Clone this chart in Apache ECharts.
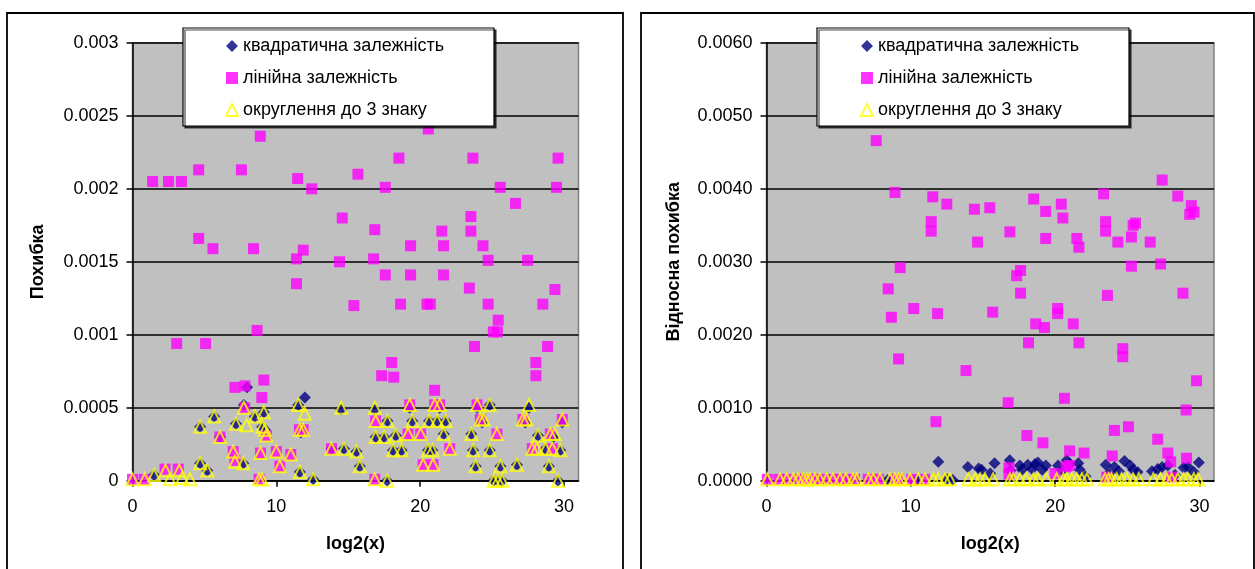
<!DOCTYPE html>
<html>
<head>
<meta charset="utf-8">
<script src="https://cdn.jsdelivr.net/npm/echarts@6/dist/echarts.min.js"></script>
<style>
html,body{margin:0;padding:0;background:#fff;overflow:hidden}
#c{width:1255px;height:569px}
</style>
</head>
<body>
<div id="c"></div>
<script>
// ---- names / ticks ----
const seriesNames = ['квадратична залежність', 'лінійна залежність', 'округлення до 3 знаку'];
const xTickValues = [0, 10, 20, 30];
const leftAxisTitle = 'Похибка';
const rightAxisTitle = 'Відносна похибка';
const xAxisTitle = 'log2(x)';

// ---- left chart: absolute error ----
const absRounding = [
  [0.0,0.00001],[0.85,0.00001],[1.5,0.00004],[2.3,0.00007],[2.6,0.00001],[3.25,0.00007],[3.45,0.00002],[4.0,0.00001],
  [4.7,0.00037],[4.7,0.00012],[5.2,0.00007],[5.68,0.00044],[6.08,0.0003],[7.0,0.0002],[7.12,0.00013],[7.19,0.00039],
  [7.7,0.00012],[7.74,0.0005],[7.93,0.00038],[8.51,0.00044],[8.8,0.00001],[8.9,0.00019],[9.0,0.00001],[9.02,0.00037],
  [9.13,0.00047],[9.2,0.00035],[9.3,0.00031],[10.0,0.0002],[10.24,0.0001],[11.0,0.00018],[11.52,0.00052],[11.63,0.00006],
  [11.63,0.00035],[11.86,0.00035],[11.98,0.00046],[12.56,0.00001],[13.83,0.00022],[14.5,0.0005],[14.7,0.00022],[15.57,0.0002],
  [15.8,0.0001],[16.84,0.0005],[16.84,0.00001],[16.9,0.00041],[16.9,0.0003],[17.49,0.0003],[17.7,0.0],[17.72,0.00041],
  [18.11,0.00021],[18.3,0.00031],[18.7,0.00021],[19.15,0.00032],[19.27,0.00052],[19.45,0.00041],[20.03,0.00032],[20.2,0.00011],
  [20.54,0.00021],[20.61,0.00041],[20.84,0.00021],[20.89,0.00011],[21.0,0.00052],[21.17,0.00041],[21.35,0.00052],[21.63,0.00032],
  [21.77,0.00041],[22.05,0.00022],[23.55,0.00032],[23.67,0.00021],[23.85,0.0001],[23.95,0.00052],[24.18,0.00042],[24.41,0.00042],
  [24.83,0.00052],[24.83,0.00021],[25.1,0.0],[25.33,0.00032],[25.4,0.0],[25.57,0.0001],[25.7,0.0],[26.72,0.00011],
  [27.14,0.00042],[27.37,0.00042],[27.56,0.00052],[27.79,0.00022],[28.11,0.00022],[28.18,0.00031],[28.71,0.00022],[28.94,0.0001],
  [29.04,0.00032],[29.18,0.00022],[29.34,0.00032],[29.57,0.0],[29.73,0.00021],[29.87,0.00042]
];
const absQuadratic = [
  [1.5,0.00004],[4.7,0.00037],[4.7,0.00012],[5.2,0.00007],[5.68,0.00044],[6.08,0.0003],[7.19,0.00039],
  [7.7,0.00012],[7.74,0.00052],[7.96,0.00064],[8.51,0.00044],[9.02,0.00037],[9.13,0.00047],[9.2,0.00035],
  [11.52,0.00052],[11.63,0.00006],[11.7,0.00033],[11.98,0.00057],[12.56,0.00001],[13.83,0.00022],[14.5,0.00049],
  [14.7,0.00022],[15.57,0.0002],[15.8,0.0001],[16.84,0.00049],[16.9,0.0003],[17.49,0.0003],[17.7,0.0],[17.72,0.00041],
  [18.11,0.00021],[18.3,0.00031],[18.7,0.00021],[19.27,0.0005],[19.45,0.00041],[20.54,0.00021],[20.61,0.00041],
  [20.84,0.00021],[21.17,0.00041],[21.35,0.0005],[21.63,0.00032],[21.77,0.00041],[23.55,0.00032],[23.67,0.00021],
  [23.85,0.0001],[23.95,0.0005],[24.3,0.0004],[24.83,0.00052],[24.83,0.00021],[25.1,0.0],[25.4,0.0],[25.57,0.0001],
  [25.7,0.0],[26.72,0.00011],[27.3,0.0004],[27.56,0.0005],[28.18,0.00031],[28.71,0.00022],[28.94,0.0001],
  [29.25,0.0003],[29.57,0.0],[29.73,0.00021],[29.87,0.0004]
];
const absLinear = [
  [1.4,0.00205],[2.5,0.00205],[3.4,0.00205],[4.6,0.00213],[7.57,0.00213],[8.88,0.00236],[11.48,0.00207],[12.46,0.002],
  [4.6,0.00166],[5.59,0.00159],[8.41,0.00159],[11.4,0.00152],[11.87,0.00158],[11.4,0.00135],[3.07,0.00094],[5.08,0.00094],
  [8.66,0.00103],[7.12,0.00064],[7.82,0.00065],[9.13,0.00069],[8.99,0.00057],[7.8,0.0005],[14.58,0.0018],[15.67,0.0021],
  [14.39,0.0015],[15.39,0.0012],[16.84,0.00172],[16.76,0.00152],[17.57,0.00201],[17.57,0.00141],[18.52,0.00221],[18.63,0.00121],
  [17.32,0.00072],[18.16,0.00071],[18.02,0.00081],[19.33,0.00161],[19.33,0.00141],[20.47,0.00121],[20.7,0.00121],[20.56,0.00241],
  [21.5,0.00171],[21.62,0.00161],[21.62,0.00141],[21.0,0.00062],[23.66,0.00221],[23.52,0.00181],[23.52,0.00171],[23.41,0.00132],
  [23.77,0.00092],[24.36,0.00161],[24.72,0.00151],[24.72,0.00121],[25.42,0.0011],[25.08,0.00102],[25.36,0.00102],[25.56,0.00201],
  [26.62,0.0019],[27.46,0.00151],[28.04,0.00081],[28.04,0.00072],[28.52,0.00121],[28.85,0.00092],[29.36,0.00131],[29.47,0.00201],
  [29.58,0.00221],
  [0.0,0.00001],[0.8,0.00001],[2.26,0.00008],[3.18,0.00008],[6.08,0.0003],[7.0,0.0002],[7.12,0.00014],[8.8,0.00001],
  [8.9,0.00019],[9.3,0.00031],[10.0,0.0002],[10.24,0.0001],[11.0,0.00018],[11.6,0.00035],[11.86,0.00035],[13.83,0.00022],
  [16.84,0.00001],[16.9,0.00041],[19.15,0.00032],[19.27,0.00052],[20.03,0.00032],[20.2,0.00011],[20.89,0.00011],[21.0,0.00052],
  [21.35,0.00052],[22.05,0.00022],[23.95,0.00052],[24.18,0.00042],[25.33,0.00032],[27.14,0.00042],[27.79,0.00022],[29.04,0.00032],
  [29.18,0.00022],[29.87,0.00042]
];

// ---- right chart: relative error ----
const relRounding = [
  [0.06,0.00002],[0.94,0.00002],[1.4,0.00002],[1.86,0.00002],[2.2,0.00002],[2.55,0.00002],[2.78,0.00002],[3.0,0.00002],
  [3.36,0.00002],[3.7,0.00002],[4.17,0.00002],[4.6,0.00002],[5.1,0.00002],[5.5,0.00002],[6.0,0.00002],[6.25,0.00002],
  [7.06,0.00002],[7.4,0.00002],[7.86,0.00002],[8.56,0.00002],[8.9,0.00002],[9.13,0.00002],[9.37,0.00002],[9.94,0.00002],
  [10.52,0.00002],[10.98,0.00002],[11.56,0.00002],[11.9,0.00002],[12.37,0.00002],[12.7,0.00002],[13.98,0.00002],[14.45,0.00002],
  [14.8,0.00002],[15.14,0.00002],[15.7,0.00002],[16.87,0.00002],[17.1,0.00002],[17.56,0.00002],[18.0,0.00002],[18.5,0.00002],
  [18.8,0.00002],[19.4,0.00002],[20.1,0.00002],[20.57,0.00002],[20.8,0.00002],[21.15,0.00002],[21.5,0.00002],[21.85,0.00002],
  [22.2,0.00002],[23.45,0.00002],[23.7,0.00002],[23.9,0.00002],[24.26,0.00002],[24.6,0.00002],[24.97,0.00002],[25.4,0.00002],
  [25.8,0.00002],[26.8,0.00002],[27.3,0.00002],[27.72,0.00002],[28.07,0.00002],[28.5,0.00002],[28.9,0.00002],[29.2,0.00002],
  [29.6,0.00002],[29.9,0.00002]
];
const relQuadratic = [
  [8.4,0.00001],[10.4,0.00001],[12.5,0.00002],[12.9,0.00001],
  [11.9,0.00026],[13.95,0.00019],[14.7,0.00017],[14.9,0.00015],[15.5,0.0001],[15.8,0.00024],[16.85,0.00028],[16.9,0.00014],
  [17.55,0.00021],[17.7,0.00015],[18.1,0.00022],[18.4,0.00016],[18.6,0.00023],[18.8,0.00025],[19.1,0.00015],[19.35,0.00021],
  [20.2,0.00021],[20.5,0.00014],[20.8,0.00028],[21.0,0.00023],[21.6,0.00024],[21.7,0.00015],[22.1,0.00006],[23.5,0.00022],
  [23.7,0.0001],[24.1,0.00019],[24.4,0.00013],[24.8,0.00027],[25.2,0.00021],[25.4,0.00015],[25.7,0.00012],[26.7,0.00013],
  [27.1,0.00016],[27.4,0.00019],[27.8,0.00021],[28.3,0.00008],[28.9,0.00018],[29.2,0.00019],[29.6,0.00012],[29.95,0.00025]
];
const relLinear = [
  [7.6,0.00466],[8.9,0.00395],[9.26,0.00292],[8.43,0.00263],[8.65,0.00224],[9.15,0.00167],[10.2,0.00236],[11.52,0.00389],
  [11.41,0.00355],[11.41,0.00342],[12.49,0.00379],[11.85,0.00229],[11.74,0.00081],[13.82,0.00151],[14.4,0.00372],[14.62,0.00327],
  [15.47,0.00374],[15.67,0.00231],[16.86,0.00341],[16.74,0.00107],[17.33,0.00281],[17.6,0.00288],[17.6,0.00257],[18.15,0.00189],
  [18.51,0.00386],[18.65,0.00215],[19.26,0.0021],[19.34,0.00369],[19.34,0.00332],[20.17,0.00236],[20.17,0.00229],[20.42,0.00379],
  [20.53,0.0036],[20.64,0.00113],[21.25,0.00215],[21.5,0.00332],[21.64,0.0032],[21.64,0.00189],[23.35,0.00393],[23.49,0.00355],
  [23.49,0.00342],[23.62,0.00254],[24.34,0.00327],[24.68,0.00181],[24.68,0.0017],[25.28,0.00334],[25.28,0.00294],[25.4,0.0035],
  [25.56,0.00353],[26.58,0.00327],[27.41,0.00412],[27.3,0.00297],[28.49,0.0039],[28.85,0.00257],[29.43,0.00377],[29.32,0.00365],
  [29.62,0.00368],[29.79,0.00137],[29.07,0.00097],
  [21.0,0.00041],[22.0,0.00038],[18.04,0.00062],[19.15,0.00052],[24.1,0.00069],[25.07,0.00074],[27.1,0.00057],[27.8,0.00038],
  [28.0,0.00026],[29.1,0.00031],[23.95,0.00034],[20.75,0.00019],[20.98,0.00021],[19.99,0.0001],[16.8,0.00018],[16.8,0.00009],
  [23.57,0.00005],[28.07,0.00005],
  [0.05,0.00002],[0.85,0.00002],[1.5,0.00002],[2.3,0.00002],[2.6,0.00002],[3.25,0.00002],[3.45,0.00002],[4.0,0.00002],
  [4.7,0.00002],[5.2,0.00002],[5.7,0.00002],[6.1,0.00002],[7.05,0.00002],[7.45,0.00002],[7.75,0.00002],[8.95,0.00002],
  [9.1,0.00002],[10.05,0.00002],[10.95,0.00002]
];

// ---- styles ----
const FONT = 'Arial, "Liberation Sans", sans-serif';
const styles = [
  {symbol: 'diamond', symbolSize: 12, itemStyle: {color: '#000080'}},
  {symbol: 'rect', symbolSize: 11, itemStyle: {color: '#FF00FF'}},
  {symbol: 'triangle', symbolSize: 12, itemStyle: {color: 'rgba(0,0,0,0)', borderColor: '#FFFF00', borderWidth: 2}}
];

function mkSeries(idx, data, name, st) {
  return Object.assign({
    type: 'scatter', name: name, xAxisIndex: idx, yAxisIndex: idx, data: data,
    clip: false, emphasis: {disabled: true}, animation: false
  }, st);
}

function xAxisOf(idx) {
  return {
    gridIndex: idx, type: 'value', min: 0, max: 31, interval: 10,
    name: xAxisTitle, nameLocation: 'middle', nameGap: 54,
    nameTextStyle: {fontFamily: FONT, fontSize: 18, fontWeight: 'bold', color: '#000'},
    axisLine: {show: true, onZero: false, lineStyle: {color: '#000', width: 1.5}},
    axisTick: {show: true, length: 6, inside: false, customValues: xTickValues, lineStyle: {color: '#000', width: 1.5}},
    axisLabel: {customValues: xTickValues, margin: 17, fontFamily: FONT, fontSize: 18, color: '#000'},
    splitLine: {show: false}
  };
}

function yAxisOf(idx, max, interval, name, gap, fmt) {
  return {
    gridIndex: idx, type: 'value', min: 0, max: max, interval: interval,
    name: name, nameLocation: 'middle', nameGap: gap,
    nameTextStyle: {fontFamily: FONT, fontSize: 18, fontWeight: 'bold', color: '#000'},
    axisLine: {show: true, lineStyle: {color: '#000', width: 1.5}},
    axisTick: {show: true, length: 6, inside: false, lineStyle: {color: '#000', width: 1.5}},
    axisLabel: {margin: 14, fontFamily: FONT, fontSize: 18, color: '#000', formatter: fmt},
    splitLine: {show: true, lineStyle: {color: '#000', width: 1.5}}
  };
}

function legendOf(left) {
  return {
    left: left, top: 37, orient: 'vertical', itemGap: 14, itemWidth: 12, itemHeight: 12,
    selectedMode: false, padding: 0, z: 10,
    textStyle: {fontFamily: FONT, fontSize: 18, color: '#000'},
    data: [
      {name: seriesNames[0], icon: 'diamond'},
      {name: seriesNames[1], icon: 'rect'},
      {name: seriesNames[2], icon: 'triangle'}
    ]
  };
}

const chart = echarts.init(document.getElementById('c'), null, {renderer: 'canvas'});
chart.setOption({
  animation: false,
  backgroundColor: '#fff',
  grid: [
    {left: 132.5, top: 42.8, width: 446, height: 438, show: true, backgroundColor: '#C0C0C0', borderColor: '#808080', borderWidth: 1.5},
    {left: 766.5, top: 42.8, width: 447.5, height: 438, show: true, backgroundColor: '#C0C0C0', borderColor: '#808080', borderWidth: 1.5}
  ],
  xAxis: [xAxisOf(0), xAxisOf(1)],
  yAxis: [
    yAxisOf(0, 0.003, 0.0005, leftAxisTitle, 85, null),
    yAxisOf(1, 0.006, 0.001, rightAxisTitle, 83, v => v.toFixed(4))
  ],
  legend: [legendOf(225), legendOf(860)],
  graphic: [
    {type: 'rect', z: 0, silent: true, shape: {x: 7, y: 13, width: 616, height: 600}, style: {fill: 'none', stroke: '#000', lineWidth: 1.8}},
    {type: 'rect', z: 0, silent: true, shape: {x: 641, y: 13, width: 613, height: 600}, style: {fill: 'none', stroke: '#000', lineWidth: 1.8}},
    {type: 'rect', z: 8, silent: true, shape: {x: 183, y: 28, width: 311, height: 98},
      style: {fill: '#fff', stroke: '#000', lineWidth: 1.2, shadowColor: 'rgba(0,0,0,0.7)', shadowOffsetX: 2, shadowOffsetY: 2, shadowBlur: 0}},
    {type: 'rect', z: 8, silent: true, shape: {x: 817, y: 28, width: 312, height: 98},
      style: {fill: '#fff', stroke: '#000', lineWidth: 1.2, shadowColor: 'rgba(0,0,0,0.7)', shadowOffsetX: 2, shadowOffsetY: 2, shadowBlur: 0}}
  ],
  series: [
    mkSeries(0, absQuadratic, seriesNames[0], styles[0]),
    mkSeries(0, absLinear, seriesNames[1], styles[1]),
    mkSeries(0, absRounding, seriesNames[2], styles[2]),
    mkSeries(1, relQuadratic, seriesNames[0], styles[0]),
    mkSeries(1, relLinear, seriesNames[1], styles[1]),
    mkSeries(1, relRounding, seriesNames[2], styles[2])
  ]
});
</script>
</body>
</html>
